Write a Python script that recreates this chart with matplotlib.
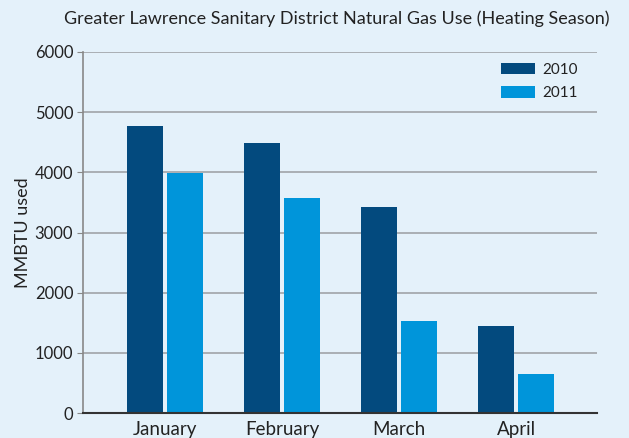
import matplotlib
matplotlib.use("Agg")
import matplotlib.pyplot as plt
import numpy as np

months = ["January", "February", "March", "April"]
use_2010 = [4770, 4490, 3425, 1445]
use_2011 = [3990, 3575, 1530, 650]
yticks = [0, 1000, 2000, 3000, 4000, 5000, 6000]

BG = "#E4F1FA"
DARK = "#034A7E"
LIGHT = "#0095DA"

plt.rcParams["font.family"] = ["Lato", "DejaVu Sans"]

fig = plt.figure(figsize=(6.29, 4.38), dpi=100, facecolor=BG)
ax = fig.add_axes([83 / 629, 25 / 438, 514 / 629, 361 / 438], facecolor=BG)

x = np.arange(len(months))
w = 0.31
ax.bar(x - 0.172, use_2010, w, color=DARK, label="2010", zorder=3)
ax.bar(x + 0.172, use_2011, w, color=LIGHT, label="2011", zorder=3)

ax.set_xlim(-0.70, 3.69)
ax.set_ylim(0, 6000)
ax.set_yticks(yticks)
ax.set_xticks(x)
ax.set_xticklabels(months, fontsize=13.5, color="#222222")
ax.tick_params(axis="y", labelsize=12, colors="#222222", length=4, color="#888888", pad=3)
ax.tick_params(axis="x", length=0, pad=6)
ax.yaxis.grid(True, color="#a0a4a8", linewidth=1.2, zorder=0)

for side in ("top", "right"):
    ax.spines[side].set_visible(False)
ax.spines["left"].set_color("#888888")
ax.spines["left"].set_linewidth(1.2)
ax.spines["bottom"].set_color("#333333")
ax.spines["bottom"].set_linewidth(1.5)
ax.spines["bottom"].set_zorder(4)

ax.set_ylabel("MMBTU used", fontsize=13, color="#222222", labelpad=3)
fig.text(0.536, 0.958, "Greater Lawrence Sanitary District Natural Gas Use (Heating Season)",
         ha="center", va="center", fontsize=13, color="#222222")

leg = ax.legend(loc="upper right", bbox_to_anchor=(0.99, 1.007), frameon=False,
                fontsize=11, handlelength=2.2, handleheight=0.75, handletextpad=0.5,
                labelspacing=0.6)
for t in leg.get_texts():
    t.set_color("#222222")

fig.savefig("out.png", dpi=100, facecolor=BG)
